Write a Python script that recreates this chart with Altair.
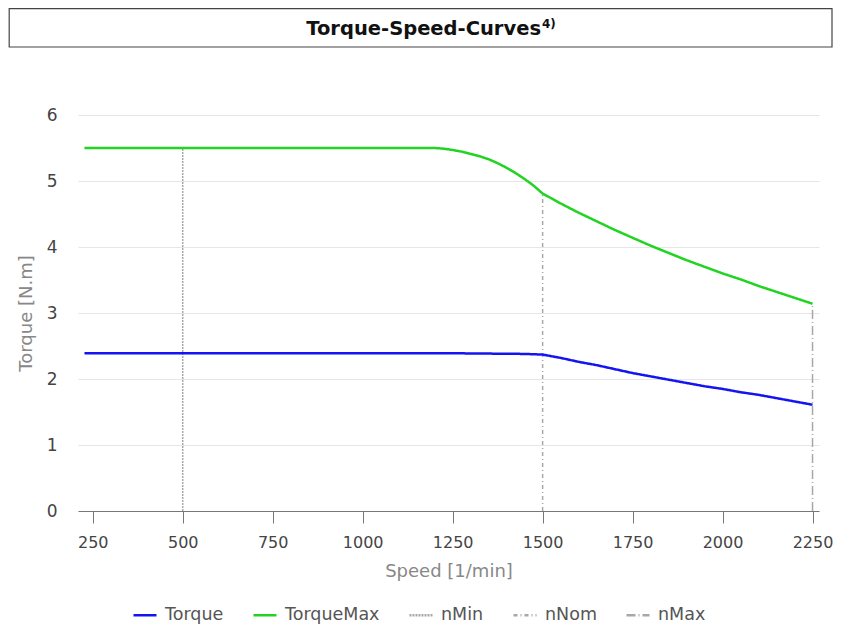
import altair as alt
import pandas as pd

# ---- data ----
torque_speed = [227, 500, 1000, 1250, 1350, 1450, 1500, 1550, 1600, 1650, 1700, 1750, 1800, 1850,
                1900, 1950, 2000, 2050, 2100, 2150, 2200, 2250]
torque_vals = [2.39, 2.39, 2.39, 2.39, 2.385, 2.38, 2.37, 2.32, 2.26, 2.21, 2.15, 2.09, 2.04, 1.99,
               1.94, 1.89, 1.85, 1.80, 1.76, 1.71, 1.66, 1.61]

tmax_speed = [227, 500, 1000, 1200, 1225, 1250, 1275, 1300, 1325, 1350, 1375, 1400, 1425, 1450, 1475,
              1500, 1550, 1600, 1650, 1700, 1750, 1800, 1850, 1900, 1950, 2000, 2050, 2100, 2150, 2200, 2250]
tmax_vals = [5.5, 5.5, 5.5, 5.5, 5.49, 5.47, 5.445, 5.41, 5.375, 5.33, 5.27, 5.20, 5.12, 5.03, 4.93,
             4.81, 4.66, 4.52, 4.39, 4.26, 4.14, 4.02, 3.91, 3.80, 3.70, 3.60, 3.51, 3.41, 3.32, 3.23, 3.14]

limit_names = ["nMin", "nNom", "nMax"]
limit_speed = [500, 1500, 2250]
limit_top = [5.5, 4.81, 3.14]

series = ["Torque", "TorqueMax", "nMin", "nNom", "nMax"]
series_colors = ["#1414f0", "#22d422", "#a8a8a8", "#a8a8a8", "#a8a8a8"]
series_dash = [[1, 0], [1, 0], [2, 1], [4, 3, 1, 3], [9, 3, 1, 3]]

x_ticks = [250, 500, 750, 1000, 1250, 1500, 1750, 2000, 2250]
y_ticks = [0, 1, 2, 3, 4, 5, 6]

title_main = "Torque-Speed-Curves"
title_sup = "4)"

# ---- tables ----
curves = pd.DataFrame(
    [{"speed": s, "torque": t, "series": "Torque", "i": k} for k, (s, t) in enumerate(zip(torque_speed, torque_vals))]
    + [{"speed": s, "torque": t, "series": "TorqueMax", "i": k} for k, (s, t) in enumerate(zip(tmax_speed, tmax_vals))]
)
limits = pd.DataFrame({"series": limit_names, "speed": limit_speed, "top": limit_top, "bottom": [0, 0, 0]})

W, H = 741, 396
FONT = "DejaVu Sans"

x_scale = alt.Scale(domain=[209, 2268], nice=False, zero=False)
y_scale = alt.Scale(domain=[0, 6], nice=False)
color_scale = alt.Scale(domain=series, range=series_colors)
dash_scale = alt.Scale(domain=series, range=series_dash)

legend = alt.Legend(
    title=None, orient="none", legendX=54, legendY=487, direction="horizontal",
    symbolType="stroke", symbolSize=530, symbolStrokeWidth=2.5,
    labelFontSize=17.5, labelFont=FONT, labelColor="#555555",
    columnPadding=24, labelOffset=7, columns=5,
)

x_axis = alt.Axis(
    values=x_ticks, format="d", title="Speed [1/min]", grid=False, tickSize=12, tickColor="#777777",
    domainColor="#777777", labelFontSize=16, labelFont=FONT, labelColor="#444444",
    labelPadding=11, titleFontSize=18, titleFont=FONT, titleColor="#888888",
    titleFontWeight="normal", titlePadding=12,
)
y_axis = alt.Axis(
    values=y_ticks, format="d", title="Torque [N.m]", grid=True, gridColor="#e6e6e6", ticks=False, domain=False,
    labelFontSize=17, labelFont=FONT, labelColor="#444444", labelPadding=21,
    titleFontSize=18, titleFont=FONT, titleColor="#888888", titleFontWeight="normal",
    titlePadding=11,
)

lines = alt.Chart(curves).mark_line(strokeWidth=2.5).encode(
    x=alt.X("speed:Q", scale=x_scale, axis=x_axis),
    y=alt.Y("torque:Q", scale=y_scale, axis=y_axis),
    color=alt.Color("series:N", scale=color_scale, legend=legend),
    strokeDash=alt.StrokeDash("series:N", scale=dash_scale, legend=legend),
    order="i:Q",
)

rules = alt.Chart(limits).mark_rule(strokeWidth=1.5).encode(
    x=alt.X("speed:Q", scale=x_scale),
    y=alt.Y("bottom:Q", scale=y_scale),
    y2="top:Q",
    color=alt.Color("series:N", scale=color_scale, legend=legend),
    strokeDash=alt.StrokeDash("series:N", scale=dash_scale, legend=legend),
)

box = alt.Chart(pd.DataFrame({"a": [0]})).mark_rect(
    fill="white", stroke="#444444", strokeWidth=1.2
).encode(x=alt.value(-68.8), x2=alt.value(754), y=alt.value(-106.4), y2=alt.value(-68))

title_df = pd.DataFrame({"t": [title_main]})
sup_df = pd.DataFrame({"t": [title_sup]})
title_text = alt.Chart(title_df).mark_text(
    font=FONT, fontSize=19.5, fontWeight="bold", color="#111111", align="right", baseline="alphabetic"
).encode(x=alt.value(463), y=alt.value(-80), text="t:N")
sup_text = alt.Chart(sup_df).mark_text(
    font=FONT, fontSize=12, fontWeight="bold", color="#111111", align="left", baseline="alphabetic"
).encode(x=alt.value(464), y=alt.value(-87), text="t:N")

chart = alt.layer(rules, lines, box, title_text, sup_text).properties(
    width=W, height=H, padding={"left": 0, "top": 0, "right": 0, "bottom": 0}
).configure(padding=0).configure_view(stroke=None)

chart.save("out.html", embed_options={"renderer": "svg", "actions": False})
